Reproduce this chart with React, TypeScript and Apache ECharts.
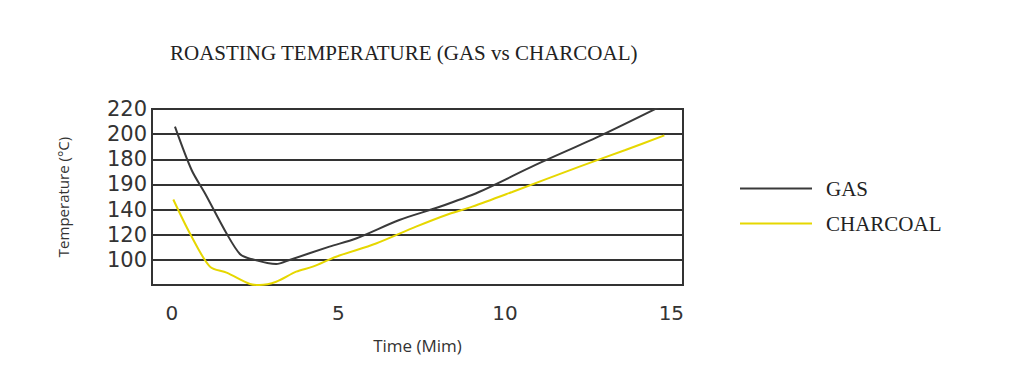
import React, { useEffect, useRef } from "react";
import * as echarts from "echarts";

const titleText = "ROASTING TEMPERATURE (GAS vs CHARCOAL)";
const xTickValues = [0, 5, 10, 15];
const yTickValues = [100, 120, 140, 160, 180, 200, 220];
const yTickLabels = ["100", "120", "140", "190", "180", "200", "220"];

const gasTime = [0.09, 0.59, 0.99, 1.64, 2.04, 2.34, 3.13, 3.53, 4.73, 5.53, 6.83, 8.02, 9.22, 10.92, 12.81, 14.67];
const gasTemp = [206, 171.5, 153, 121, 104.7, 101, 96.7, 99.9, 110.5, 117, 131.7, 142, 154, 175.5, 198, 222];

const charTime = [0.04, 0.54, 1.14, 1.64, 2.34, 2.63, 3.13, 3.73, 4.23, 4.93, 6.13, 7.33, 8.32, 9.02, 10.22, 12.22, 13.62, 14.79];
const charTemp = [148, 121, 94.6, 89.8, 80.8, 80, 82.6, 90.6, 94.6, 102.5, 113, 126.4, 136.5, 142.3, 154, 174, 187.4, 199];

export default function App() {
  const ref = useRef<HTMLDivElement>(null);
  useEffect(() => {
    if (!ref.current) return;
    const chart = echarts.init(ref.current, null, { renderer: "svg" });
    const ink = "#333333";
    chart.setOption({
      animation: false,
      backgroundColor: "#ffffff",
      title: {
        text: titleText,
        left: 165,
        top: 37,
        textStyle: { fontFamily: "Liberation Serif", fontWeight: "normal", fontSize: 21, color: "#222222" },
      },
      legend: {
        orient: "vertical",
        left: 735,
        top: 173,
        itemWidth: 72,
        itemHeight: 2,
        itemGap: 14,
        icon: "rect",
        data: ["GAS", "CHARCOAL"],
        textStyle: {
          fontFamily: "Liberation Serif",
          fontSize: 21,
          lineHeight: 21,
          color: "#222222",
          padding: [0, 0, 0, 9],
        },
      },
      grid: {
        left: 152,
        right: 327,
        top: 109,
        bottom: 81,
        show: true,
        borderColor: ink,
        borderWidth: 2,
        backgroundColor: "transparent",
      },
      xAxis: {
        type: "value",
        min: -0.6,
        max: 15.35,
        name: "Time (Mim)",
        nameLocation: "middle",
        nameGap: 52,
        nameTextStyle: { fontFamily: "Open Sans", fontSize: 17, color: ink },
        axisLine: { show: false },
        axisTick: { show: false },
        splitLine: { show: false },
        axisLabel: {
          customValues: xTickValues,
          margin: 18,
          fontFamily: "DejaVu Sans",
          fontSize: 20,
          color: ink,
        },
      },
      yAxis: {
        type: "value",
        min: 80,
        max: 220,
        interval: 20,
        name: "Temperature (°C)",
        nameLocation: "middle",
        nameGap: 82,
        nameTextStyle: { fontFamily: "Open Sans", fontSize: 15, color: ink },
        axisLine: { show: false },
        axisTick: { show: false },
        splitLine: { show: true, lineStyle: { color: ink, width: 2 } },
        axisLabel: {
          margin: 5,
          fontFamily: "DejaVu Sans",
          fontSize: 21,
          color: ink,
          padding: [8, 0, 0, 0],
          formatter: (v: number) => {
            const i = yTickValues.indexOf(v);
            return i >= 0 ? yTickLabels[i] : "";
          },
        },
      },
      series: [
        {
          name: "GAS",
          type: "line",
          smooth: 0.3,
          showSymbol: false,
          color: "#3a3a3a",
          lineStyle: { width: 2, color: "#3a3a3a" },
          data: gasTime.map((t, i) => [t, gasTemp[i]]),
        },
        {
          name: "CHARCOAL",
          type: "line",
          smooth: 0.3,
          showSymbol: false,
          color: "#e6d700",
          lineStyle: { width: 2, color: "#e6d700" },
          data: charTime.map((t, i) => [t, charTemp[i]]),
        },
      ],
    });
    return () => chart.dispose();
  }, []);
  return (
    <div
      ref={ref}
      style={{ position: "fixed", left: 0, top: 0, width: 1010, height: 366 }}
    />
  );
}
